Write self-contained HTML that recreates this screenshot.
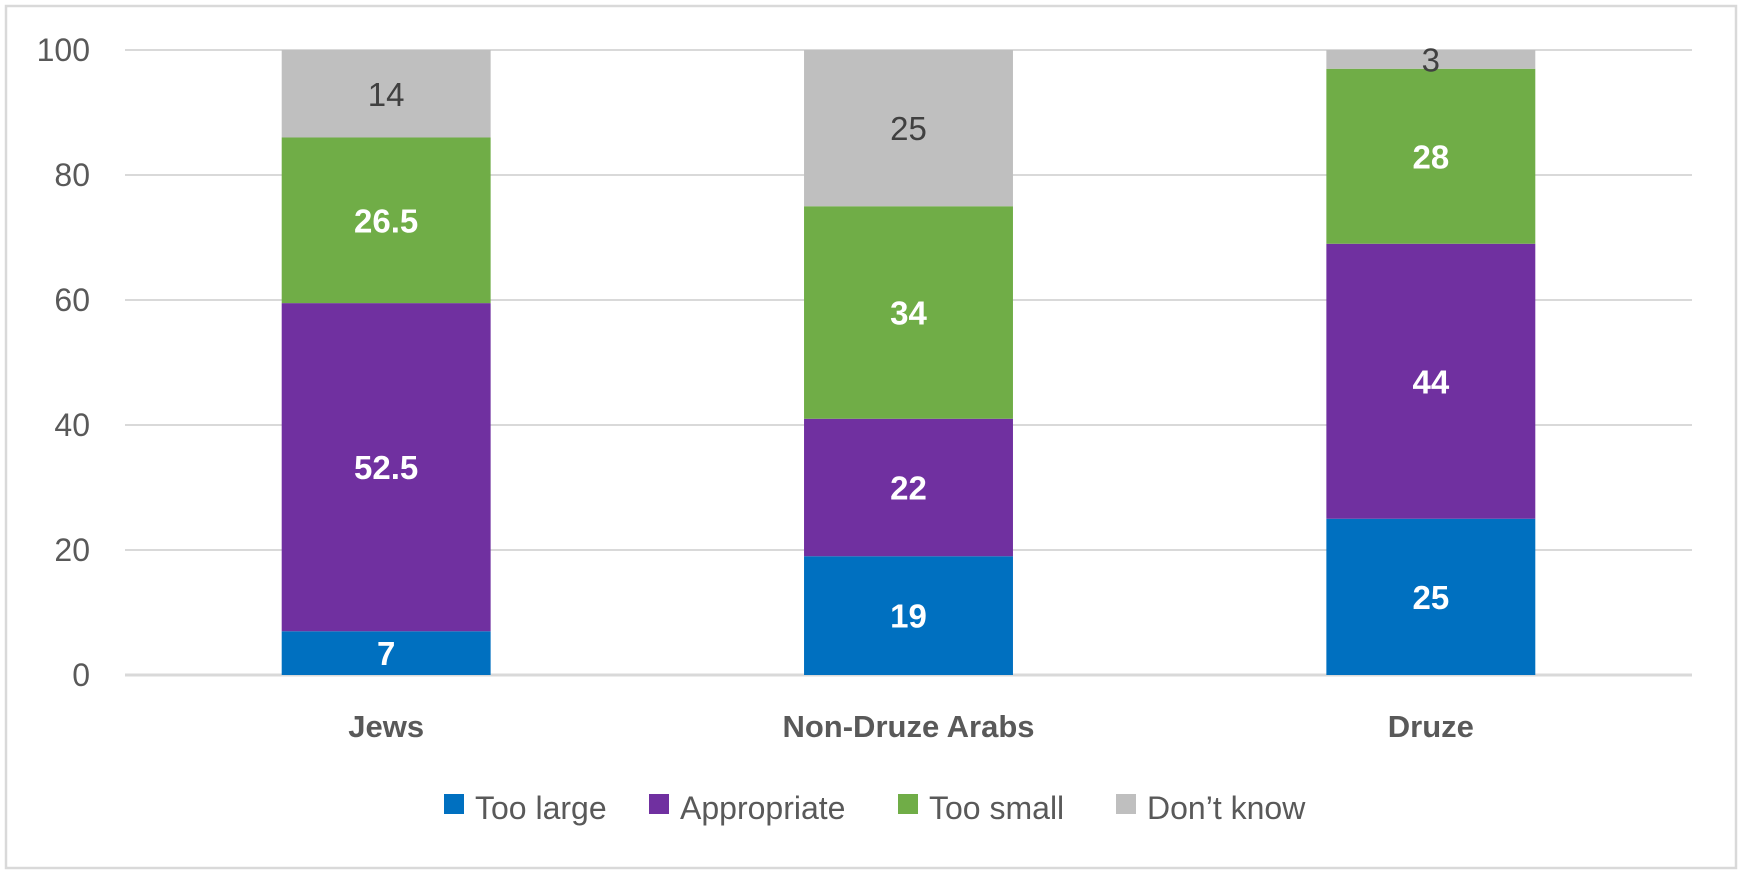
<!DOCTYPE html>
<html><head><meta charset="utf-8"><style>
body{margin:0;background:#fff;}
svg{display:block;font-family:"Liberation Sans",sans-serif;}
</style></head><body>
<svg id="chart" width="1743" height="873">
<rect x="6" y="6" width="1730" height="862" fill="#fff" stroke="#d9d9d9" stroke-width="2.5"/>
<g id="grid"></g><g id="bars"></g><g id="labels"></g><g id="legend"></g>
</svg>
<script>
const categories=["Jews","Non-Druze Arabs","Druze"];
const seriesNames=["Too large","Appropriate","Too small","Don’t know"];
const tooLarge=[7,19,25];
const appropriate=[52.5,22,44];
const tooSmall=[26.5,34,28];
const dontKnow=[14,25,3];
const yTicks=[0,20,40,60,80,100];
const colors=["#0070c0","#7030a0","#70ad47","#bfbfbf"];
const series=[tooLarge,appropriate,tooSmall,dontKnow];
const NS="http://www.w3.org/2000/svg";
const x0=125,x1=1692,yBase=675,yTop=50;
const band=(x1-x0)/categories.length;
const y=v=>yBase-(v/100)*(yBase-yTop);
const xc=i=>x0+band*(i+0.5);
function mk(t,a,p){const e=document.createElementNS(NS,t);for(const k in a)e.setAttribute(k,a[k]);p.appendChild(e);return e;}
const grid=document.getElementById('grid'),bars=document.getElementById('bars'),labels=document.getElementById('labels'),legend=document.getElementById('legend');
yTicks.forEach(t=>{
 const l=mk('line',{x1:x0,x2:x1,y1:y(t),y2:y(t),stroke:'#d9d9d9','stroke-width':t===0?3:2},grid);
 
 
 const tx=mk('text',{x:90,y:y(t)+11,'text-anchor':'end','font-size':32,fill:'#595959'},grid);
 tx.textContent=t;
 
 
});
const bw=band*0.4;
categories.forEach((c,i)=>{
 let cum=0;
 series.forEach((s,j)=>{
  const v=s[i];
  const r=mk('rect',{x:xc(i)-bw/2,y:y(cum+v),width:bw,height:y(cum)-y(cum+v),fill:colors[j]},bars);
  
  
  const t=mk('text',{x:xc(i),y:y(cum+v/2)+12,'text-anchor':'middle','font-size':33,'font-weight':j<3?'bold':'normal',fill:j<3?'#fff':'#404040'},labels);
  t.textContent=v;
  
  
  cum+=v;
 });
 const cl=mk('text',{x:xc(i),y:737,'text-anchor':'middle','font-size':31,'font-weight':'bold',fill:'#595959'},labels);
 cl.textContent=c;
 
 
});
const legX=[444,649,898,1116];
seriesNames.forEach((n,j)=>{
 const g=mk('g',{},legend);
 
 
 mk('rect',{x:legX[j],y:794,width:20,height:20,fill:colors[j]},g);
 const t=mk('text',{x:legX[j]+31,y:819,'font-size':32,fill:'#595959'},g);
 t.textContent=n;
});
</script>
</body></html>
